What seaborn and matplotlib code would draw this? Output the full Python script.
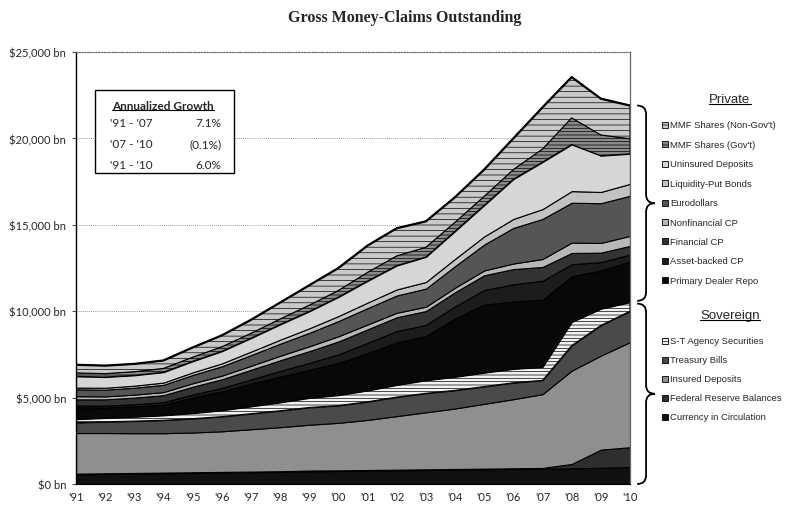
import matplotlib
matplotlib.use("Agg")
from matplotlib import pyplot as plt
from matplotlib.patches import Rectangle, PathPatch
from matplotlib.path import Path
from matplotlib.lines import Line2D
from matplotlib import transforms
import seaborn as sns
import numpy as np

# Data ($bn)
years = list(range(1991, 2011))
year_labels = ["'91", "'92", "'93", "'94", "'95", "'96", "'97", "'98", "'99", "'00",
               "'01", "'02", "'03", "'04", "'05", "'06", "'07", "'08", "'09", "'10"]

currency = [560, 580, 600, 620, 640, 660, 680, 700, 740, 750, 770, 790, 810, 830, 850, 870, 890, 910, 940, 980]
fed_reserves = [40, 40, 40, 40, 40, 40, 40, 40, 40, 40, 40, 40, 40, 40, 40, 40, 40, 250, 1050, 1150]
insured = [2350, 2330, 2300, 2280, 2300, 2350, 2450, 2550, 2650, 2750, 2900, 3100, 3300, 3500, 3750, 4000, 4270, 5400, 5440, 6080]
tbills = [600, 650, 700, 750, 800, 850, 900, 950, 1000, 1000, 1050, 1100, 1100, 1050, 1000, 950, 800, 1450, 1750, 1790]
agency = [200, 220, 250, 280, 320, 360, 420, 480, 550, 600, 650, 700, 750, 780, 800, 800, 770, 1360, 960, 520]
repo = [700, 610, 610, 630, 910, 1100, 1310, 1500, 1630, 1860, 2160, 2470, 2560, 3380, 3940, 3900, 3890, 2650, 2220, 2360]
abcp = [100, 110, 120, 140, 170, 200, 250, 320, 400, 500, 600, 650, 650, 700, 850, 1000, 1100, 700, 480, 400]
fin_cp = [350, 360, 380, 400, 450, 500, 560, 620, 680, 750, 780, 800, 800, 820, 850, 880, 800, 650, 550, 500]
nonfin_cp = [180, 170, 170, 180, 200, 210, 230, 260, 280, 300, 280, 260, 250, 260, 280, 320, 460, 600, 560, 580]
eurodollars = [400, 390, 400, 420, 480, 540, 620, 700, 780, 880, 950, 1000, 1050, 1250, 1500, 2060, 2320, 2310, 2300, 2320]
liquidity_put = [100, 110, 120, 130, 150, 170, 200, 230, 260, 290, 320, 350, 380, 420, 470, 520, 570, 670, 650, 690]
uninsured = [650, 620, 600, 600, 640, 700, 780, 880, 980, 1100, 1250, 1380, 1450, 1600, 1800, 2300, 2720, 2700, 2100, 1740]
mmf_gov = [200, 200, 210, 220, 240, 260, 280, 320, 360, 380, 500, 560, 560, 520, 520, 560, 760, 1540, 1200, 870]
mmf_nongov = [470, 460, 450, 460, 560, 660, 780, 950, 1150, 1300, 1550, 1600, 1500, 1450, 1550, 1800, 2410, 2360, 2100, 1920]

growth_periods = ["'91 - '07", "'07 - '10", "'91 - '10"]
growth_values = ["7.1%", "(0.1%)", "6.0%"]

# Stacking order, bottom to top: (label, values, face colour, hatch)
sovereign = [
    ("Currency in Circulation", currency, "#101010", None),
    ("Federal Reserve Balances", fed_reserves, "#2e2e2e", None),
    ("Insured Deposits", insured, "#8f8f8f", None),
    ("Treasury Bills", tbills, "#4a4a4a", None),
    ("S-T Agency Securities", agency, "#f2f2f2", "-----"),
]
private = [
    ("Primary Dealer Repo", repo, "#080808", None),
    ("Asset-backed CP", abcp, "#1c1c1c", None),
    ("Financial CP", fin_cp, "#333333", None),
    ("Nonfinancial CP", nonfin_cp, "#b8b8b8", None),
    ("Eurodollars", eurodollars, "#555555", None),
    ("Liquidity-Put Bonds", liquidity_put, "#c2c2c2", None),
    ("Uninsured Deposits", uninsured, "#d6d6d6", None),
    ("MMF Shares (Gov't)", mmf_gov, "#8a8a8a", "-----"),
    ("MMF Shares (Non-Gov't)", mmf_nongov, "#c9c9c9", "---"),
]
layers = sovereign + private

sns.set_style("white")
plt.rcParams['font.family'] = ['Lato', 'DejaVu Sans']
plt.rcParams['hatch.linewidth'] = 0.5

W, H = 790, 506
fig = plt.figure(figsize=(W / 100, H / 100), dpi=100)
ax = fig.add_axes([76 / W, 1 - 485 / H, 554 / W, 432 / H])

polys = ax.stackplot(years, *[l[1] for l in layers],
                     colors=[l[2] for l in layers],
                     edgecolor="black", linewidth=0.8, zorder=2)
for poly, layer in zip(polys, layers):
    if layer[3]:
        poly.set_hatch(layer[3])

total = np.sum([l[1] for l in layers], axis=0)
sov_total = np.sum([l[1] for l in sovereign], axis=0)
ax.plot(years, total, color="black", lw=1.6, zorder=3)

ax.set_xlim(years[0], years[-1])
ax.set_ylim(0, 25000)
ax.set_xticks(years)
ax.set_xticklabels(year_labels, fontsize=8)
yt = list(range(0, 25001, 5000))
ax.set_yticks(yt)
ax.set_yticklabels([f"${v:,} bn" for v in yt], fontsize=8)
ax.tick_params(axis="x", length=0, pad=5)
ax.tick_params(axis="y", length=3, width=0.6, pad=4, left=True)
ax.yaxis.grid(True, linestyle=(0, (1, 1.5)), color="#777777", lw=0.6)
ax.set_axisbelow(True)
ax.spines["left"].set_color("black")
ax.spines["left"].set_linewidth(1.0)
ax.spines["bottom"].set_color("black")
ax.spines["top"].set_linestyle((0, (1, 1.5)))
ax.spines["top"].set_color("#666666")
ax.spines["right"].set_color("#666666")
ax.spines["right"].set_linewidth(0.9)

fig.text(405 / W, 1 - 18 / H, "Gross Money-Claims Outstanding", ha="center", va="center",
         family="Liberation Serif", fontweight="bold", fontsize=11.5)

# Annualized growth box
ax.add_patch(Rectangle((0.034, 0.72), 0.251, 0.192, transform=ax.transAxes,
                       facecolor="white", edgecolor="black", lw=1.0, zorder=5))
t_head = ax.text(0.157, 0.877, "Annualized Growth", transform=ax.transAxes,
                 ha="center", va="center", fontsize=8.5, fontweight="bold", zorder=6)
for i, (p, v) in enumerate(zip(growth_periods, growth_values)):
    yy = 0.836 - i * 0.048
    ax.text(0.061, yy, p, transform=ax.transAxes, ha="left", va="center", fontsize=8.5, zorder=6)
    ax.text(0.262, yy, v, transform=ax.transAxes, ha="right", va="center", fontsize=8.5, zorder=6)


# Braces at right edge (x in axes fraction, y in data)
def brace(y0, y1, x0=1.013, w=0.032, r=500):
    ym = (y0 + y1) / 2
    xm = x0 + w / 2
    verts = [(x0, y1), (xm, y1), (xm, y1 - r),
             (xm, ym + r), (xm, ym), (x0 + w, ym),
             (xm, ym), (xm, ym - r),
             (xm, y0 + r), (xm, y0), (x0, y0)]
    codes = [Path.MOVETO, Path.CURVE3, Path.CURVE3,
             Path.LINETO, Path.CURVE3, Path.CURVE3,
             Path.CURVE3, Path.CURVE3,
             Path.LINETO, Path.CURVE3, Path.CURVE3]
    tr = transforms.blended_transform_factory(ax.transAxes, ax.transData)
    ax.add_patch(PathPatch(Path(verts, codes), transform=tr, facecolor="none",
                           edgecolor="black", lw=1.3, clip_on=False))


brace(sov_total[-1] + 80, total[-1])
brace(0, sov_total[-1] - 80)

# Legend
heads = []
heads.append(fig.text(730 / W, 1 - 100 / H, "Private", ha="center", va="center",
                      family="Liberation Sans", fontsize=9.5))
for i, layer in enumerate(reversed(private)):
    yy = 126 + i * 19.4
    fig.add_artist(Rectangle(((665 - 3) / W, 1 - (yy + 3) / H), 6 / W, 6 / H,
                             transform=fig.transFigure, facecolor=layer[2],
                             edgecolor="black", lw=0.6, hatch=layer[3]))
    fig.text(670 / W, 1 - yy / H, layer[0], ha="left", va="center",
             family="Liberation Sans", fontsize=6.8)
heads.append(fig.text(730 / W, 1 - 316 / H, "Sovereign", ha="center", va="center",
                      family="Liberation Sans", fontsize=9.5))
for i, layer in enumerate(reversed(sovereign)):
    yy = 342 + i * 19
    fig.add_artist(Rectangle(((665 - 3) / W, 1 - (yy + 3) / H), 6 / W, 6 / H,
                             transform=fig.transFigure, facecolor=layer[2],
                             edgecolor="black", lw=0.6, hatch=layer[3]))
    fig.text(670 / W, 1 - yy / H, layer[0], ha="left", va="center",
             family="Liberation Sans", fontsize=6.8)

# Underlines for headings
fig.canvas.draw()
renderer = fig.canvas.get_renderer()
inv = fig.transFigure.inverted()
for t in heads + [t_head]:
    bb = t.get_window_extent(renderer)
    (x0, y0), (x1, _) = inv.transform([(bb.x0, bb.y0 + 1), (bb.x1, bb.y0 + 1)])
    fig.add_artist(Line2D([x0, x1], [y0, y0], transform=fig.transFigure,
                          color="black", lw=0.8, zorder=7))

fig.savefig("out.png", dpi=100, facecolor="white")
